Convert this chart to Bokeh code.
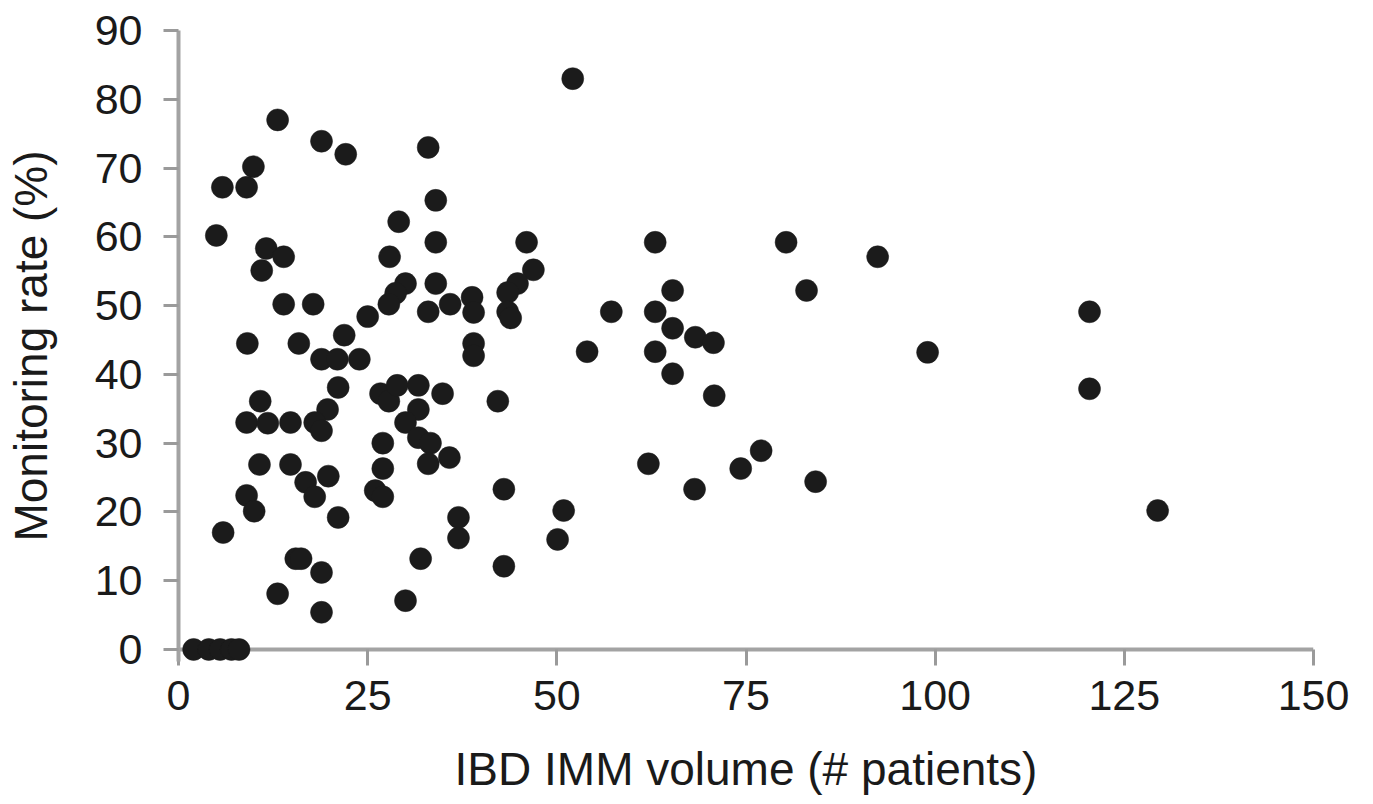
from bokeh.plotting import figure
from bokeh.models import Range1d, FixedTicker, ColumnDataSource, Span
from bokeh.embed import file_html
from bokeh.resources import INLINE

# IBD IMM volume (# patients)
volume = [52.1, 13.1, 18.9, 22.1, 33.0, 9.9, 5.8, 9.0, 34.0, 5.0,
          29.1, 34.0, 11.6, 13.9, 27.9, 11.0, 34.0, 30.0, 28.7, 27.8,
          25.0, 13.9, 17.8, 33.0, 35.9, 9.1, 15.9, 21.9, 18.9, 21.0,
          23.9, 21.1, 10.8, 26.7, 27.8, 28.9, 31.7, 34.9, 31.7, 19.7,
          9.0, 11.8, 14.8, 18.0, 18.9, 30.0, 31.7, 33.3, 33.0, 35.8,
          27.0, 27.0, 26.0, 27.0, 10.7, 14.8, 16.8, 18.0, 19.8, 9.0,
          10.0, 21.1, 5.9, 37.0, 37.0, 15.5, 16.2, 18.9, 32.0, 13.1,
          30.0, 18.9, 46.0, 63.0, 46.9, 44.8, 43.5, 38.8, 39.0, 43.5,
          43.9, 57.2, 63.0, 65.3, 65.3, 68.3, 70.7, 39.0, 39.0, 54.0,
          63.0, 65.3, 70.8, 42.2, 62.1, 68.2, 43.0, 50.9, 50.1, 43.0,
          74.3, 77.0, 80.3, 83.0, 84.2, 92.4, 99.0, 120.4, 120.4, 129.4,
          2.0, 4.0, 5.5, 7.0, 8.0]

# Monitoring rate (%)
rate = [83.0, 77.0, 73.9, 72.0, 73.0, 70.2, 67.2, 67.2, 65.3, 60.2,
        62.2, 59.2, 58.3, 57.1, 57.1, 55.1, 53.2, 53.2, 51.8, 50.2,
        48.4, 50.2, 50.2, 49.1, 50.2, 44.5, 44.5, 45.7, 42.2, 42.2,
        42.2, 38.1, 36.1, 37.2, 36.1, 38.4, 38.4, 37.2, 34.9, 34.9,
        33.0, 32.9, 33.0, 33.0, 31.8, 33.0, 30.8, 30.0, 27.0, 27.9,
        30.0, 26.3, 23.1, 22.2, 26.9, 26.9, 24.3, 22.2, 25.2, 22.4,
        20.1, 19.2, 17.0, 19.2, 16.2, 13.2, 13.2, 11.2, 13.2, 8.1,
        7.1, 5.4, 59.2, 59.2, 55.2, 53.2, 51.9, 51.2, 49.0, 49.1,
        48.2, 49.1, 49.1, 52.2, 46.7, 45.4, 44.6, 44.5, 42.7, 43.3,
        43.3, 40.1, 36.9, 36.1, 27.0, 23.3, 23.3, 20.2, 16.0, 12.1,
        26.3, 28.9, 59.2, 52.2, 24.4, 57.1, 43.2, 49.1, 37.9, 20.2,
        0.0, 0.0, 0.0, 0.0, 0.0]

x_ticks = [0, 25, 50, 75, 100, 125, 150]
y_ticks = [0, 10, 20, 30, 40, 50, 60, 70, 80, 90]

x_title = "IBD IMM volume (# patients)"
y_title = "Monitoring rate (%)"

src = ColumnDataSource(data=dict(x=volume, y=rate))

p = figure(
    output_backend="svg", toolbar_location=None,
    frame_width=1135, frame_height=631,
    min_border_left=178, min_border_right=52,
    min_border_top=30, min_border_bottom=120,
    x_range=Range1d(0, 150), y_range=Range1d(-1.75, 90),
)
p.outline_line_color = None
p.grid.visible = False
p.background_fill_color = "white"
p.border_fill_color = "white"

axis_gray = "#a3a3a3"

# x axis line drawn at y = 0 (behind the dots)
zero_line = Span(location=0, dimension="width", line_color=axis_gray,
                 line_width=4, level="underlay")
p.add_layout(zero_line)

p.scatter("x", "y", source=src, size=22, fill_color="#1b1b1b",
          line_color="#1b1b1b", line_width=1, line_alpha=0.5)

for ax in (p.xaxis[0], p.yaxis[0]):
    ax.axis_line_color = axis_gray
    ax.axis_line_width = 4
    ax.major_tick_line_color = "#9a9a9a"
    ax.major_tick_line_width = 3
    ax.major_tick_in = 0
    ax.minor_tick_line_color = None
    ax.major_label_text_font = "Liberation Sans"
    ax.major_label_text_font_size = "43px"
    ax.major_label_text_color = "#1a1a1a"
    ax.axis_label_text_font = "Liberation Sans"
    ax.axis_label_text_font_size = "46px"
    ax.axis_label_text_font_style = "normal"
    ax.axis_label_text_color = "#1a1a1a"

p.xaxis[0].ticker = FixedTicker(ticks=x_ticks)
p.yaxis[0].ticker = FixedTicker(ticks=y_ticks)
p.xaxis[0].axis_line_color = None
p.xaxis[0].major_tick_in = 12
p.xaxis[0].major_tick_out = 4
p.yaxis[0].major_tick_out = 15
p.xaxis[0].major_label_standoff = 15
p.yaxis[0].major_label_standoff = 21
p.xaxis[0].axis_label = x_title
p.yaxis[0].axis_label = y_title
p.xaxis[0].axis_label_standoff = 30
p.yaxis[0].axis_label_standoff = 35

open("out.html", "w").write(file_html(p, INLINE))
